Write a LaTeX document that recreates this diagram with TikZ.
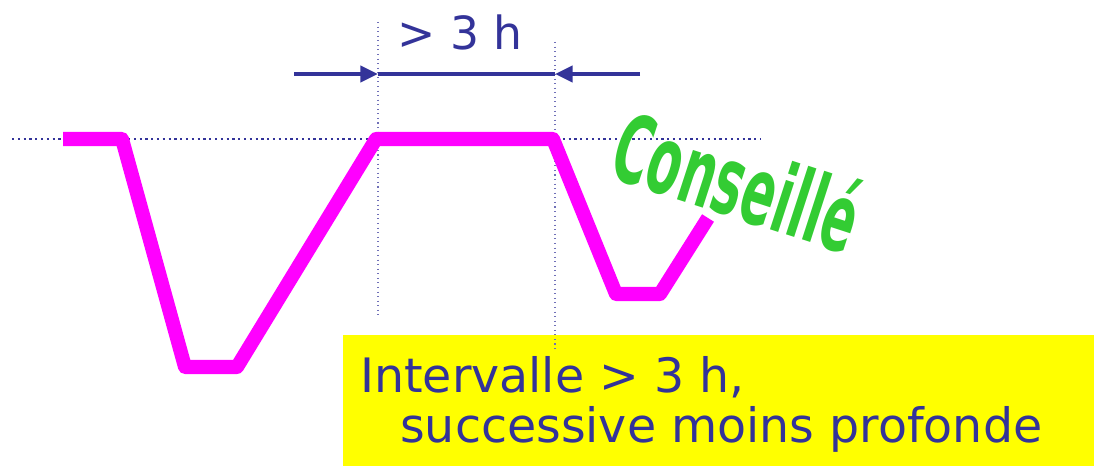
\documentclass[tikz,border=0pt]{standalone}
\usepackage{fontspec}
\setmainfont{DejaVu Sans}
\usepackage{tikz}
\usetikzlibrary{arrows.meta,positioning,calc}
\definecolor{diveblue}{HTML}{333399}
\definecolor{profmag}{HTML}{FF00FF}
\definecolor{advgreen}{HTML}{33CC33}
\definecolor{notebg}{HTML}{FFFF00}

\begin{document}
\begin{tikzpicture}[x=0.02cm,y=-0.02cm,
  profile/.style={line width=8pt,color=profmag,line join=round},
  guide/.style={dotted,color=diveblue!70,line width=0.6pt},
  surface/.style={dotted,color=diveblue,line width=1.3pt},
  arr/.style={-{Triangle[length=10pt,width=9pt]},line width=2.8pt,color=diveblue},
  note/.style={fill=notebg,inner sep=0pt,anchor=north west,minimum width=751*0.02cm,
               minimum height=131*0.02cm},
  notetext/.style={font=\fontsize{27}{31}\selectfont,color=diveblue,anchor=base west},
]
  \useasboundingbox (0,0) rectangle (1094,466);

  % yellow note box
  \node[note] (box) at (343,335) {};
  \node[notetext] (line1) at (354,392) {Intervalle > 3 h,};
  \node[notetext] (line2) at (394,442) {successive moins profonde};

  % surface and interval guides
  \coordinate (sl) at (12,139);
  \coordinate (sr) at (760,139);
  \draw[surface] (sl) -- (sr);
  \coordinate (g1t) at (378,22);
  \coordinate (g1b) at (378,318);
  \coordinate (g2t) at (555,42);
  \coordinate (g2b) at (555,352);
  \draw[guide] (g1t) -- (g1b);
  \draw[guide] (g2t) -- (g2b);

  % dive profiles
  \draw[profile] (63,139) -- (122,139) -- (185,367) -- (237,367) -- (376,139)
    -- (553,139) -- (616,294) -- (660,294) -- (708,218);

  % interval arrows
  \coordinate (al) at (294,74);
  \coordinate (ar) at (640,74);
  \coordinate (tl) at (378,74);
  \coordinate (tr) at (555,74);
  \draw[arr] (al) -- (tl);
  \draw[arr] (ar) -- (tr);
  \draw[line width=2.8pt,color=diveblue] (tl) -- (tr);
  \node[font=\fontsize{26}{30}\selectfont,color=diveblue] (gap) at (460,32) {> 3 h};

  % advice
  \node[font=\fontsize{54}{60}\selectfont\bfseries,color=advgreen,rotate=-18,
        xscale=0.52,transform shape] (advice) at (738,180) {Conseillé};
\end{tikzpicture}
\end{document}
